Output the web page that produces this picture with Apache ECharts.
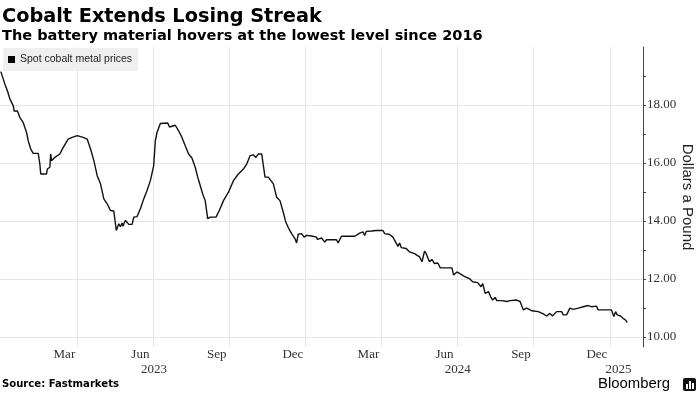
<!DOCTYPE html>
<html><head><meta charset="utf-8">
<script src="https://cdn.jsdelivr.net/npm/echarts@6/dist/echarts.min.js"></script>
<style>html,body{margin:0;padding:0;background:#fff}#c{width:700px;height:394px}</style>
</head><body><div id="c"></div>
<script>
// ---- data ----
const dates = [
'2022-12-30','2023-01-04','2023-01-07','2023-01-10','2023-01-14','2023-01-15','2023-01-19','2023-01-22','2023-01-26','2023-01-30',
'2023-02-01','2023-02-04','2023-02-07','2023-02-13','2023-02-15','2023-02-16','2023-02-23','2023-02-24','2023-02-27','2023-02-28',
'2023-03-01','2023-03-05','2023-03-11','2023-03-15','2023-03-21','2023-03-26','2023-04-01','2023-04-08','2023-04-13','2023-04-17',
'2023-04-21','2023-04-25','2023-04-29','2023-05-03','2023-05-07','2023-05-11','2023-05-15','2023-05-18','2023-05-21','2023-05-23',
'2023-05-25','2023-05-26','2023-05-29','2023-06-02','2023-06-06','2023-06-08','2023-06-12','2023-06-16','2023-06-20','2023-06-24',
'2023-06-28','2023-07-02','2023-07-04','2023-07-06','2023-07-10','2023-07-19','2023-07-21','2023-07-28','2023-08-01','2023-08-05',
'2023-08-09','2023-08-13','2023-08-17','2023-08-21','2023-08-24','2023-08-27','2023-08-30','2023-09-02','2023-09-05','2023-09-08',
'2023-09-15','2023-09-19','2023-09-24','2023-09-30','2023-10-06','2023-10-12','2023-10-18','2023-10-22','2023-10-26','2023-10-30',
'2023-11-02','2023-11-05','2023-11-09','2023-11-13','2023-11-17','2023-11-23','2023-11-27','2023-12-01','2023-12-05','2023-12-08',
'2023-12-11','2023-12-15','2023-12-19','2023-12-21','2023-12-23','2023-12-27','2023-12-30','2024-01-02','2024-01-08','2024-01-14',
'2024-01-15','2024-01-20','2024-01-24','2024-01-26','2024-02-07','2024-02-09','2024-02-13','2024-02-29','2024-03-06','2024-03-10',
'2024-03-12','2024-03-14','2024-03-20','2024-03-26','2024-04-03','2024-04-05','2024-04-11','2024-04-15','2024-04-17','2024-04-21',
'2024-04-23','2024-04-25','2024-05-01','2024-05-05','2024-05-11','2024-05-17','2024-05-20','2024-05-23','2024-05-25','2024-05-29',
'2024-06-01','2024-06-04','2024-06-08','2024-06-11','2024-06-25','2024-06-27','2024-07-01','2024-07-04','2024-07-10','2024-07-16',
'2024-07-20','2024-07-26','2024-07-30','2024-08-01','2024-08-04','2024-08-08','2024-08-11','2024-08-13','2024-08-16','2024-08-18',
'2024-08-24','2024-08-30','2024-09-03','2024-09-11','2024-09-15','2024-09-19','2024-09-23','2024-09-26','2024-09-29','2024-10-07',
'2024-10-13','2024-10-17','2024-10-21','2024-10-24','2024-10-29','2024-11-04','2024-11-06','2024-11-10','2024-11-14','2024-11-18',
'2024-11-24','2024-11-30','2024-12-06','2024-12-10','2024-12-16','2024-12-18','2025-01-03','2025-01-06','2025-01-08','2025-01-10',
'2025-01-14','2025-01-17','2025-01-20','2025-01-22'
];
const prices = [
19.15,18.71,18.48,18.20,17.97,17.79,17.79,17.56,17.39,17.05,
16.76,16.48,16.33,16.33,15.96,15.62,15.62,15.79,15.85,16.31,
16.08,16.19,16.31,16.53,16.82,16.88,16.94,16.88,16.82,16.48,
16.08,15.56,15.28,14.76,14.59,14.36,14.34,13.67,13.90,13.80,
13.93,13.82,14.02,13.88,13.88,14.13,14.15,14.42,14.76,15.05,
15.39,15.91,16.76,17.05,17.36,17.38,17.24,17.30,17.11,16.88,
16.59,16.31,16.17,15.85,15.51,15.22,14.93,14.70,14.08,14.13,
14.13,14.36,14.70,14.99,15.39,15.62,15.79,15.96,16.25,16.28,
16.19,16.31,16.31,15.51,15.51,15.28,14.82,14.70,14.30,13.96,
13.77,13.56,13.39,13.24,13.54,13.56,13.44,13.50,13.48,13.44,
13.36,13.41,13.27,13.35,13.35,13.24,13.47,13.47,13.58,13.62,
13.50,13.64,13.65,13.67,13.67,13.56,13.53,13.44,13.39,13.12,
13.24,13.08,13.05,12.93,12.87,12.76,12.59,12.96,12.87,12.59,
12.67,12.53,12.55,12.38,12.38,12.13,12.24,12.19,12.09,12.01,
11.90,11.87,11.73,11.84,11.50,11.56,11.36,11.27,11.36,11.25,
11.25,11.22,11.25,11.27,11.22,10.93,10.99,10.95,10.90,10.87,
10.79,10.72,10.81,10.72,10.87,10.87,10.76,10.76,10.99,10.95,
10.99,11.04,11.08,11.04,11.06,10.93,10.93,10.70,10.87,10.76,
10.72,10.64,10.58,10.50
];
const tickDates = ['2023-04-01','2023-07-01','2023-10-01','2024-01-01','2024-04-01','2024-07-01','2024-10-01','2025-01-01'];
const monthLabelMonths = ['2023-03','2023-06','2023-09','2023-12','2024-03','2024-06','2024-09','2024-12'];
const monthLabelNames = ['Mar','Jun','Sep','Dec','Mar','Jun','Sep','Dec'];
const yearLabels = ['2023','2024','2025'];
const yLabelValues = [10,12,14,16,18];
const yTickValues = [10,11,12,13,14,15,16,17,18,19];
const xRange = ['2022-12-29','2025-02-10'];
const yRange = [9.65,20];

// ---- helpers ----
const BASE = Date.UTC(2023,0,1);
function dayOf(s){const p=s.split('-').map(Number);return (Date.UTC(p[0],p[1]-1,p[2]||1)-BASE)/86400000;}
const xMin = dayOf(xRange[0]), xMax = dayOf(xRange[1]);
const lastDay = dayOf(dates[dates.length-1]);
const seriesData = dates.map((d,i)=>[dayOf(d),prices[i]]);
const tickVals = tickDates.map(dayOf);
const monthMid = monthLabelMonths.map(m=>{const p=m.split('-').map(Number);const a=Date.UTC(p[0],p[1]-1,1),b=Date.UTC(p[0],p[1],1);return ((a+b)/2-BASE)/86400000;});
const monthMap = {}; monthMid.forEach((v,i)=>monthMap[v.toFixed(3)]=monthLabelNames[i]);
const yearMid = yearLabels.map(y=>{const a=Math.max(dayOf(y+'-01-01'),xMin),b=Math.min(dayOf((+y+1)+'-01-01'),lastDay);return (a+b)/2;});
const yearMap = {}; yearMid.forEach((v,i)=>yearMap[v.toFixed(3)]=yearLabels[i]);

// fit a font size so a text spans a given width
const mctx = document.createElement('canvas').getContext('2d');
function fit(text, family, weight, width){
  mctx.font = weight+' 100px "'+family+'"';
  return 100*width/mctx.measureText(text).width;
}
const TITLE = 'Cobalt Extends Losing Streak';
const SUB = 'The battery material hovers at the lowest level since 2016';
const SRC = 'Source: Fastmarkets';
const HF = 'DejaVu Sans';
const titleSize = fit(TITLE, HF, 'bold', 320);
const subSize = fit(SUB, HF, 'bold', 481);
const srcSize = fit(SRC, HF, 'bold', 117);
const bbSize = fit('Bloomberg', 'Liberation Sans', 'normal', 72);

const AX = '#333';
const chart = echarts.init(document.getElementById('c'), null, {renderer:'canvas'});
chart.setOption({
  animation:false,
  backgroundColor:'#fff',
  grid:{left:0,right:57,top:47,bottom:47,containLabel:false,outerBoundsMode:'none'},
  legend:{
    show:true,left:3,top:48,data:['Spot cobalt metal prices'],
    icon:'rect',itemWidth:7,itemHeight:7,itemGap:4,
    backgroundColor:'#efefef',padding:[6,6,6,5],
    textStyle:{fontFamily:'Liberation Sans',fontSize:10.5,color:'#222'}
  },
  xAxis:[{
    type:'value',min:xMin,max:xMax,position:'bottom',
    axisLine:{show:false,onZero:false},
    axisTick:{show:false,customValues:tickVals},
    splitLine:{show:true,lineStyle:{color:'#e6e6e6',width:1}},
    axisLabel:{customValues:monthMid,formatter:v=>monthMap[v.toFixed(3)]||'',
      fontFamily:'Liberation Sans Narrow',fontSize:13,color:AX,margin:1}
  },{
    type:'value',min:xMin,max:xMax,position:'bottom',offset:15,
    axisLine:{show:false,onZero:false},axisTick:{show:false},splitLine:{show:false},
    axisLabel:{customValues:yearMid,formatter:v=>yearMap[v.toFixed(3)]||'',
      fontFamily:'Liberation Sans Narrow',fontSize:13,color:AX,margin:1}
  }],
  yAxis:[{
    type:'value',min:yRange[0],max:yRange[1],position:'right',
    axisLine:{show:true,onZero:false,lineStyle:{color:'#444',width:1}},
    axisTick:{show:true,customValues:yTickValues,length:3,lineStyle:{color:'#444'}},
    splitLine:{show:false},
    axisLabel:{customValues:yLabelValues,formatter:v=>v.toFixed(2),
      fontFamily:'Liberation Sans Narrow',fontSize:13,color:AX,margin:4},
    name:'Dollars a Pound',nameLocation:'middle',nameRotate:-90,nameGap:37,nameMoveOverlap:false,
    nameTextStyle:{fontFamily:'Liberation Sans',fontSize:15,color:'#222'}
  },{
    type:'value',min:yRange[0],max:yRange[1],position:'left',
    axisLine:{show:false,onZero:false},
    axisTick:{show:false,customValues:yLabelValues},
    axisLabel:{show:false},
    splitLine:{show:true,lineStyle:{color:'#e6e6e6',width:1}}
  }],
  series:[{
    name:'Spot cobalt metal prices',type:'line',data:seriesData,
    showSymbol:false,symbol:'none',
    itemStyle:{color:'#000'},
    lineStyle:{color:'#111',width:1.4},
    xAxisIndex:0,yAxisIndex:0
  }],
  graphic:[
    {type:'text',left:2,top:7,style:{text:TITLE,fontFamily:HF,fontWeight:'bold',fontSize:titleSize,fill:'#000'}},
    {type:'text',left:2,top:29,style:{text:SUB,fontFamily:HF,fontWeight:'bold',fontSize:subSize,fill:'#000'}},
    {type:'text',left:2,top:379,style:{text:SRC,fontFamily:HF,fontWeight:'bold',fontSize:srcSize,fill:'#000'}},
    {type:'text',left:598,top:376,style:{text:'Bloomberg',fontFamily:'Liberation Sans',fontSize:bbSize,fill:'#000'}},
    {type:'group',left:683,top:378,children:[
      {type:'rect',shape:{x:0,y:0,width:13,height:13,r:2},style:{fill:'#111'}},
      {type:'rect',shape:{x:3,y:6,width:2,height:5},style:{fill:'#fff'}},
      {type:'rect',shape:{x:6,y:3,width:2,height:8},style:{fill:'#fff'}},
      {type:'rect',shape:{x:9,y:5,width:2,height:6},style:{fill:'#fff'}}
    ]}
  ]
});
</script></body></html>
